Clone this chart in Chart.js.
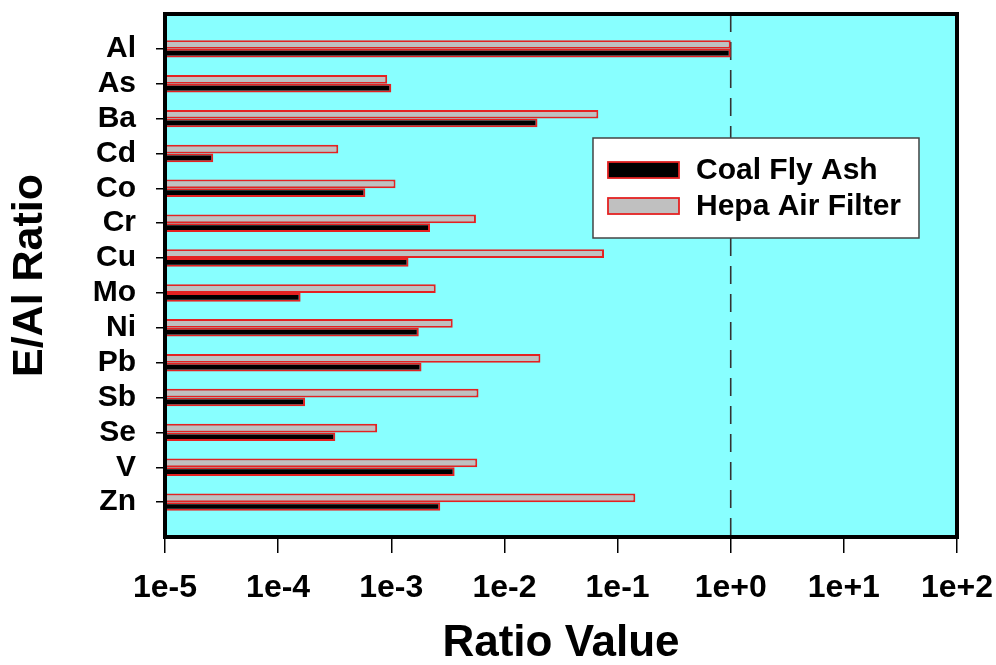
<!DOCTYPE html>
<html><head><meta charset="utf-8">
<script src="https://cdn.jsdelivr.net/npm/chart.js@4.4.1/dist/chart.umd.min.js"></script>
<style>html,body{margin:0;padding:0;background:#fff;}</style>
</head><body>
<canvas id="c" width="996" height="665"></canvas>
<script>
const elements = ['Al','As','Ba','Cd','Co','Cr','Cu','Mo','Ni','Pb','Sb','Se','V','Zn'];
const coalFlyAsh = [1.0, 1.0e-3, 0.0196, 2.67e-5, 5.9e-4, 2.2e-3, 1.42e-3, 1.58e-4, 1.75e-3, 1.85e-3, 1.73e-4, 3.2e-4, 3.63e-3, 2.71e-3];
const hepaAirFilter = [1.0, 9.2e-4, 0.0676, 3.4e-4, 1.09e-3, 5.6e-3, 0.0759, 2.47e-3, 3.49e-3, 0.0208, 5.9e-3, 7.5e-4, 5.75e-3, 0.1435];
const seriesNames = ['Coal Fly Ash', 'Hepa Air Filter'];
const xTickExponents = [-5, -4, -3, -2, -1, 0, 1, 2];
const referenceValue = 1;
const xTitle = 'Ratio Value';
const yTitle = 'E/Al Ratio';

const FONT = "'Liberation Sans', Arial, sans-serif";
const CYAN = 'rgb(136,255,255)';
const RED = '#e42222';

const toPoints = arr => arr.map((v, i) => ({x: v, y: i}));

const bgPlugin = {
  id: 'bgPlugin',
  beforeDraw(chart) {
    const {ctx, chartArea: a} = chart;
    ctx.save();
    ctx.fillStyle = CYAN;
    ctx.fillRect(a.left, a.top, a.right - a.left, a.bottom - a.top);
    ctx.restore();
  },
  beforeDatasetsDraw(chart) {
    const {ctx, chartArea: a, scales} = chart;
    const x = scales.x.getPixelForValue(referenceValue);
    ctx.save();
    ctx.strokeStyle = '#333';
    ctx.lineWidth = 1.6;
    ctx.setLineDash([18, 10]);
    ctx.beginPath();
    ctx.moveTo(x, a.top);
    ctx.lineTo(x, a.bottom);
    ctx.stroke();
    ctx.restore();
  },
  afterDatasetsDraw(chart) {
    const {ctx, chartArea: a} = chart;
    const w = a.right - a.left, h = a.bottom - a.top;
    const bx = a.left + w * 0.5404, by = a.top + h * 0.2371;
    const bw = w * 0.4116, bh = h * 0.1912;
    ctx.save();
    ctx.fillStyle = '#fff';
    ctx.fillRect(bx, by, bw, bh);
    ctx.strokeStyle = '#444';
    ctx.lineWidth = 1.5;
    ctx.strokeRect(bx, by, bw, bh);
    const rows = [32, 68];
    seriesNames.forEach((name, r) => {
      const ds = chart.data.datasets.find(d => d.label === name);
      const cy = by + rows[r];
      ctx.fillStyle = ds.backgroundColor;
      ctx.fillRect(bx + 15, cy - 8, 71, 16);
      ctx.strokeStyle = ds.borderColor;
      ctx.lineWidth = 1.8;
      ctx.strokeRect(bx + 15, cy - 8, 71, 16);
      ctx.fillStyle = '#000';
      ctx.font = "bold 30px " + FONT;
      ctx.textBaseline = 'middle';
      ctx.textAlign = 'left';
      ctx.fillText(ds.label, bx + 103, cy + 1);
    });
    ctx.restore();
  },
  afterDraw(chart) {
    const {ctx, chartArea: a} = chart;
    ctx.save();
    ctx.strokeStyle = '#000';
    ctx.lineWidth = 4;
    ctx.strokeRect(a.left, a.top, a.right - a.left, a.bottom - a.top);
    ctx.restore();
  }
};

new Chart(document.getElementById('c'), {
  type: 'bar',
  data: {
    datasets: [
      {label: seriesNames[1], data: toPoints(hepaAirFilter), backgroundColor: '#c0c0c0', borderColor: RED, borderWidth: 2, borderSkipped: false},
      {label: seriesNames[0], data: toPoints(coalFlyAsh), backgroundColor: '#000000', borderColor: RED, borderWidth: 2, borderSkipped: false}
    ]
  },
  options: {
    indexAxis: 'y',
    responsive: false,
    animation: false,
    categoryPercentage: 0.5,
    barPercentage: 1.0,
    layout: {padding: {top: 14, right: 39, left: 0, bottom: 0}},
    plugins: {legend: {display: false}, tooltip: {enabled: false}},
    scales: {
      x: {
        type: 'logarithmic',
        position: 'bottom',
        min: Math.pow(10, xTickExponents[0]),
        max: Math.pow(10, xTickExponents[xTickExponents.length - 1]),
        afterBuildTicks: s => { s.ticks = xTickExponents.map(e => ({value: Math.pow(10, e)})); },
        afterFit: s => { s.height = 128; s.paddingLeft = 0; s.paddingRight = 0; },
        ticks: {
          callback: v => { const e = Math.round(Math.log10(v)); return '1e' + (e >= 0 ? '+' : '') + e; },
          color: '#000', font: {family: FONT, size: 32, weight: 'bold'}, padding: 16, maxRotation: 0, autoSkip: false
        },
        grid: {drawOnChartArea: false, drawTicks: true, tickLength: 16, color: '#000', lineWidth: 1.5},
        border: {display: true, color: '#000', width: 4},
        title: {display: true, text: xTitle, color: '#000', font: {family: FONT, size: 44, weight: 'bold'}, padding: {top: 0, bottom: -5}}
      },
      y: {
        type: 'linear',
        reverse: true,
        offset: false,
        min: -1,
        max: 14,
        afterBuildTicks: s => { s.ticks = elements.map((e, i) => ({value: i})); },
        afterFit: s => { s.width = 165; s.paddingTop = 0; s.paddingBottom = 0; },
        ticks: {
          callback: v => elements[v] ?? '',
          color: '#000', font: {family: FONT, size: 30, weight: 'bold'}, padding: 20, autoSkip: false
        },
        grid: {offset: false, drawOnChartArea: false, drawTicks: true, tickLength: 9, color: '#000', lineWidth: 1.5},
        border: {display: true, color: '#000', width: 4},
        title: {display: true, text: yTitle, color: '#000', font: {family: FONT, size: 43, weight: 'bold'}, padding: {top: 4, bottom: 0}}
      }
    }
  },
  plugins: [bgPlugin]
});
</script>
</body></html>
